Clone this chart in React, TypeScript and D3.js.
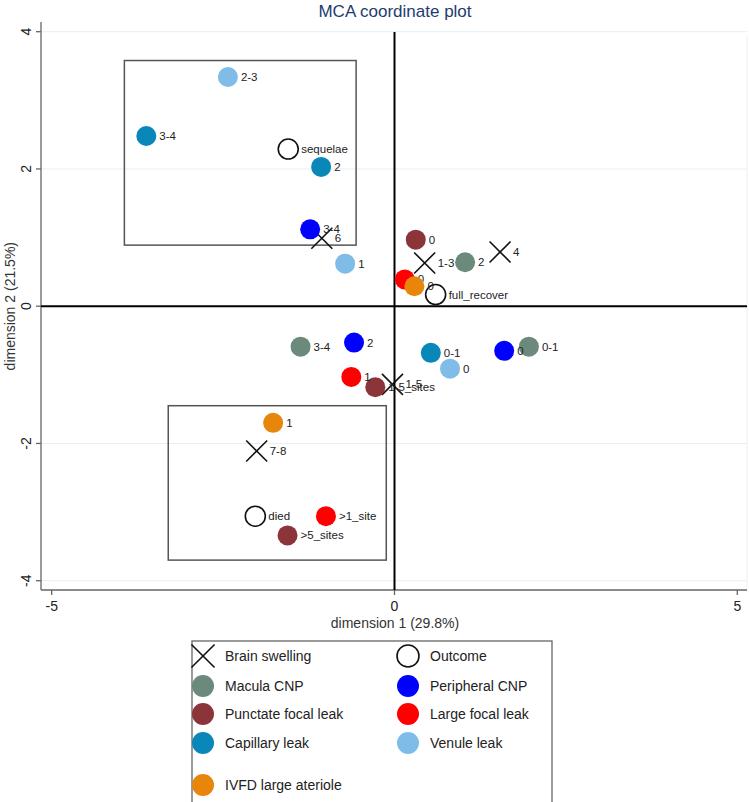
import React from "react";
import * as d3 from "d3";

type Pt = { x: number; y: number; label: string };

const brainSwelling: Pt[] = [
  { x: -1.06, y: 0.99, label: "6" },
  { x: 0.44, y: 0.63, label: "1-3" },
  { x: 1.54, y: 0.79, label: "4" },
  { x: -0.03, y: -1.14, label: "1-5" },
  { x: -2.01, y: -2.11, label: "7-8" },
];
const outcome: Pt[] = [
  { x: -1.55, y: 2.29, label: "sequelae" },
  { x: 0.6, y: 0.17, label: "full_recover" },
  { x: -2.03, y: -3.06, label: "died" },
];
const maculaCNP: Pt[] = [
  { x: 1.03, y: 0.64, label: "2" },
  { x: -1.37, y: -0.59, label: "3-4" },
  { x: 1.96, y: -0.59, label: "0-1" },
];
const peripheralCNP: Pt[] = [
  { x: -1.23, y: 1.12, label: "3-4" },
  { x: -0.59, y: -0.53, label: "2" },
  { x: 1.6, y: -0.65, label: "0" },
];
const punctateFocal: Pt[] = [
  { x: 0.31, y: 0.97, label: "0" },
  { x: -0.28, y: -1.18, label: "1-5_sites" },
  { x: -1.56, y: -3.34, label: ">5_sites" },
];
const largeFocal: Pt[] = [
  { x: 0.15, y: 0.39, label: "0" },
  { x: -0.63, y: -1.03, label: "1" },
  { x: -1.0, y: -3.06, label: ">1_site" },
];
const capillaryLeak: Pt[] = [
  { x: -3.62, y: 2.48, label: "3-4" },
  { x: -1.07, y: 2.03, label: "2" },
  { x: 0.53, y: -0.68, label: "0-1" },
];
const venuleLeak: Pt[] = [
  { x: -2.43, y: 3.34, label: "2-3" },
  { x: -0.72, y: 0.62, label: "1" },
  { x: 0.81, y: -0.91, label: "0" },
];
const ivfd: Pt[] = [
  { x: 0.29, y: 0.29, label: "0" },
  { x: -1.77, y: -1.7, label: "1" },
];

const boxes = [
  { x0: -3.94, x1: -0.56, y0: 0.89, y1: 3.58 },
  { x0: -3.3, x1: -0.12, y0: -3.7, y1: -1.45 },
];

const xTicks = [-5, 0, 5];
const yTicks = [-4, -2, 0, 2, 4];

type Series = { name: string; kind: "x" | "o" | "dot"; color: string; pts: Pt[] };
const series: Series[] = [
  { name: "Macula CNP", kind: "dot", color: "#6b8a7b", pts: maculaCNP },
  { name: "Peripheral CNP", kind: "dot", color: "#0000ff", pts: peripheralCNP },
  { name: "Punctate focal leak", kind: "dot", color: "#8b353b", pts: punctateFocal },
  { name: "Large focal leak", kind: "dot", color: "#ff0000", pts: largeFocal },
  { name: "Capillary leak", kind: "dot", color: "#0a87b9", pts: capillaryLeak },
  { name: "Venule leak", kind: "dot", color: "#80bce8", pts: venuleLeak },
  { name: "IVFD large ateriole", kind: "dot", color: "#e8860c", pts: ivfd },
  { name: "Brain swelling", kind: "x", color: "#111", pts: brainSwelling },
  { name: "Outcome", kind: "o", color: "#111", pts: outcome },
];

const legendOrder = [
  ["Brain swelling", "Outcome"],
  ["Macula CNP", "Peripheral CNP"],
  ["Punctate focal leak", "Large focal leak"],
  ["Capillary leak", "Venule leak"],
  ["IVFD large ateriole", null],
];

const W = 749;
const H = 802;
const font = "'Liberation Sans', Arial, sans-serif";

function Marker({ kind, color, cx, cy, r }: { kind: string; color: string; cx: number; cy: number; r: number }) {
  if (kind === "x") {
    const s = r * 1.05;
    return (
      <g stroke={color} strokeWidth={1.6}>
        <line x1={cx - s} y1={cy - s} x2={cx + s} y2={cy + s} />
        <line x1={cx - s} y1={cy + s} x2={cx + s} y2={cy - s} />
      </g>
    );
  }
  if (kind === "o") {
    return <circle cx={cx} cy={cy} r={r} fill="none" stroke={color} strokeWidth={1.6} />;
  }
  return <circle cx={cx} cy={cy} r={r} fill={color} />;
}

export default function App() {
  const x = d3.scaleLinear().domain([-5, 5]).range([51.7, 737.3]);
  const y = d3.scaleLinear().domain([-4, 4]).range([580.7, 31.7]);
  const left = 41;
  const right = 747;
  const top = 22;
  const bottom = 590;
  const r = 10;

  const drawOrder = ["Brain swelling", "Outcome", "Macula CNP", "Peripheral CNP", "Punctate focal leak", "Large focal leak", "Capillary leak", "Venule leak", "IVFD large ateriole"];

  return (
    <svg width={W} height={H} style={{ position: "absolute", left: 0, top: 0, background: "#fff" }} fontFamily={font}>
      <rect x={0} y={0} width={W} height={H} fill="#fff" />
      <text x={395} y={17} textAnchor="middle" fontSize={17} fill="#1e3c6e">MCA coordinate plot</text>

      {/* faint grid */}
      {yTicks.filter((t) => t !== 0).map((t) => (
        <line key={"g" + t} x1={left} x2={right} y1={y(t)} y2={y(t)} stroke="#e6f0f1" strokeWidth={1} />
      ))}
      <line x1={right} x2={right} y1={35} y2={bottom} stroke="#f0f0f0" strokeWidth={1} />

      {/* axes */}
      <line x1={left} x2={left} y1={top} y2={bottom} stroke="#666" strokeWidth={1.3} />
      <line x1={left} x2={right} y1={bottom} y2={bottom} stroke="#666" strokeWidth={1.3} />
      {yTicks.map((t) => (
        <g key={"yt" + t}>
          <line x1={left - 5} x2={left} y1={y(t)} y2={y(t)} stroke="#666" strokeWidth={1.3} />
          <text transform={`translate(${left - 10},${y(t)}) rotate(-90)`} textAnchor="middle" fontSize={14} fill="#222">
            {t}
          </text>
        </g>
      ))}
      {xTicks.map((t) => (
        <g key={"xt" + t}>
          <line x1={x(t)} x2={x(t)} y1={bottom} y2={bottom + 5} stroke="#666" strokeWidth={1.3} />
          <text x={x(t)} y={bottom + 21} textAnchor="middle" fontSize={14} fill="#222">
            {t}
          </text>
        </g>
      ))}
      <text x={395} y={628} textAnchor="middle" fontSize={14} fill="#333">dimension 1 (29.8%)</text>
      <text transform={`translate(15,${y(0)}) rotate(-90)`} textAnchor="middle" fontSize={14} fill="#333">dimension 2 (21.5%)</text>

      {/* zero lines */}
      <line x1={left} x2={right} y1={y(0)} y2={y(0)} stroke="#000" strokeWidth={2} />
      <line x1={x(0)} x2={x(0)} y1={top + 10} y2={bottom} stroke="#000" strokeWidth={2} />

      {/* boxes */}
      {boxes.map((b, i) => (
        <rect key={"b" + i} x={x(b.x0)} y={y(b.y1)} width={x(b.x1) - x(b.x0)} height={y(b.y0) - y(b.y1)} fill="none" stroke="#555" strokeWidth={1.5} />
      ))}

      {/* points */}
      {drawOrder.map((name) => {
        const s = series.find((q) => q.name === name)!;
        return (
          <g key={name}>
            {s.pts.map((p, i) => (
              <g key={i}>
                <Marker kind={s.kind} color={s.color} cx={x(p.x)} cy={y(p.y)} r={r} />
                <text x={x(p.x) + r + 3} y={y(p.y) + 4} fontSize={11.5} fill="#222">
                  {p.label}
                </text>
              </g>
            ))}
          </g>
        );
      })}

      {/* legend */}
      <rect x={192} y={641} width={360} height={175} fill="#fff" stroke="#666" strokeWidth={1.3} />
      {legendOrder.map((row, ri) => {
        const rowY = [656, 686, 714, 743, 785][ri];
        return row.map((name, ci) => {
          if (!name) return null;
          const s = series.find((q) => q.name === name)!;
          const mx = ci === 0 ? 203 : 408;
          const tx = ci === 0 ? 225 : 430;
          return (
            <g key={name}>
              <Marker kind={s.kind} color={s.color} cx={mx} cy={rowY} r={11} />
              <text x={tx} y={rowY + 5} fontSize={14} fill="#222">
                {name}
              </text>
            </g>
          );
        });
      })}
    </svg>
  );
}
